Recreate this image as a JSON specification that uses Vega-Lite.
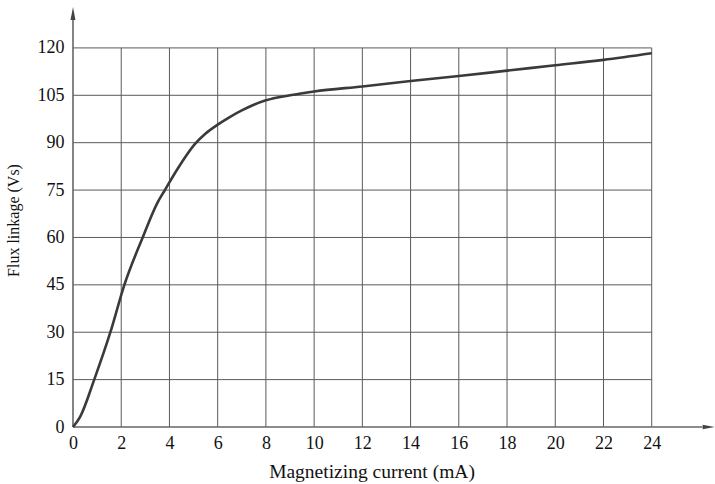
{
  "$schema": "https://vega.github.io/schema/vega-lite/v6.json",
  "width": 639,
  "height": 417,
  "autosize": "none",
  "padding": {"left": 73, "top": 10, "right": 3, "bottom": 57},
  "background": "white",
  "config": {"view": {"stroke": null}, "font": "Liberation Serif"},
  "datasets": {
    "curve": [
      {"current": 0, "flux": 0},
      {"current": 0.3, "flux": 3.3},
      {"current": 0.88, "flux": 15},
      {"current": 1.55, "flux": 30},
      {"current": 2.13, "flux": 45},
      {"current": 2.89, "flux": 60},
      {"current": 3.49, "flux": 70.8},
      {"current": 3.81, "flux": 75},
      {"current": 4.36, "flux": 82},
      {"current": 5.06, "flux": 89.6},
      {"current": 5.5, "flux": 92.9},
      {"current": 6, "flux": 95.7},
      {"current": 6.5, "flux": 98.1},
      {"current": 7, "flux": 100.2},
      {"current": 7.5, "flux": 102.0},
      {"current": 8, "flux": 103.4},
      {"current": 9, "flux": 105.0},
      {"current": 10, "flux": 106.2},
      {"current": 12, "flux": 107.8},
      {"current": 14, "flux": 109.5},
      {"current": 16, "flux": 111.1},
      {"current": 18, "flux": 112.8},
      {"current": 20, "flux": 114.5},
      {"current": 22, "flux": 116.2},
      {"current": 24, "flux": 118.3}
    ],
    "vgrid": [
      {"current": 2}, {"current": 4}, {"current": 6}, {"current": 8},
      {"current": 10}, {"current": 12}, {"current": 14}, {"current": 16},
      {"current": 18}, {"current": 20}, {"current": 22}, {"current": 24}
    ],
    "hgrid": [
      {"flux": 15}, {"flux": 30}, {"flux": 45}, {"flux": 60},
      {"flux": 75}, {"flux": 90}, {"flux": 105}, {"flux": 120}
    ],
    "axes": [
      {"x1": 0, "x2": 26.1, "y1": 0, "y2": 0},
      {"x1": 0, "x2": 0, "y1": 0, "y2": 129}
    ],
    "uparrow": [{"current": 0, "flux": 130.9}],
    "rightarrow": [{"current": 26.36, "flux": 0}]
  },
  "layer": [
    {
      "data": {"name": "vgrid"},
      "mark": {"type": "rule", "color": "#5a5a5a", "strokeWidth": 1},
      "encoding": {
        "x": {
          "field": "current",
          "type": "quantitative",
          "scale": {"domain": [0, 26.5], "nice": false},
          "axis": {
            "values": [0, 2, 4, 6, 8, 10, 12, 14, 16, 18, 20, 22, 24],
            "domain": false,
            "ticks": false,
            "grid": false,
            "labelFontSize": 18,
            "labelColor": "#111",
            "labelPadding": 7,
            "labelFlush": false,
            "title": "Magnetizing current (mA)",
            "titleFontSize": 19.5,
            "titleFontWeight": "normal",
            "titleColor": "#111",
            "titleX": 298.5,
            "titleY": 50,
            "titleBaseline": "alphabetic",
            "titleAlign": "center"
          }
        },
        "y": {"datum": 0, "type": "quantitative"},
        "y2": {"datum": 120}
      }
    },
    {
      "data": {"name": "hgrid"},
      "mark": {"type": "rule", "color": "#5a5a5a", "strokeWidth": 1},
      "encoding": {
        "y": {
          "field": "flux",
          "type": "quantitative",
          "scale": {"domain": [0, 132], "nice": false},
          "axis": {
            "values": [0, 15, 30, 45, 60, 75, 90, 105, 120],
            "domain": false,
            "ticks": false,
            "grid": false,
            "labelFontSize": 18,
            "labelColor": "#111",
            "labelPadding": 9,
            "labelFlush": false,
            "title": "Flux linkage (Vs)",
            "titleFontSize": 16,
            "titleFontWeight": "normal",
            "titleColor": "#111",
            "titleAngle": -90,
            "titleX": -55,
            "titleY": 210,
            "titleBaseline": "alphabetic",
            "titleAlign": "center"
          }
        },
        "x": {"datum": 0, "type": "quantitative"},
        "x2": {"datum": 24}
      }
    },
    {
      "data": {"name": "axes"},
      "mark": {"type": "rule", "color": "#666666", "strokeWidth": 1.6},
      "encoding": {
        "x": {"field": "x1", "type": "quantitative"},
        "x2": {"field": "x2"},
        "y": {"field": "y1", "type": "quantitative"},
        "y2": {"field": "y2"}
      }
    },
    {
      "data": {"name": "curve"},
      "mark": {"type": "line", "color": "#3a3a3a", "strokeWidth": 2.6, "interpolate": "monotone"},
      "encoding": {
        "x": {"field": "current", "type": "quantitative"},
        "y": {"field": "flux", "type": "quantitative"}
      }
    },
    {
      "data": {"name": "uparrow"},
      "mark": {"type": "point", "shape": "M0,-1L0.38,1L-0.38,1Z", "filled": true, "color": "#444444", "opacity": 1, "size": 169},
      "encoding": {
        "x": {"field": "current", "type": "quantitative"},
        "y": {"field": "flux", "type": "quantitative"}
      }
    },
    {
      "data": {"name": "rightarrow"},
      "mark": {"type": "point", "shape": "M1,0L-1,-0.36L-1,0.36Z", "filled": true, "color": "#444444", "opacity": 1, "size": 144},
      "encoding": {
        "x": {"field": "current", "type": "quantitative"},
        "y": {"field": "flux", "type": "quantitative"}
      }
    }
  ]
}
